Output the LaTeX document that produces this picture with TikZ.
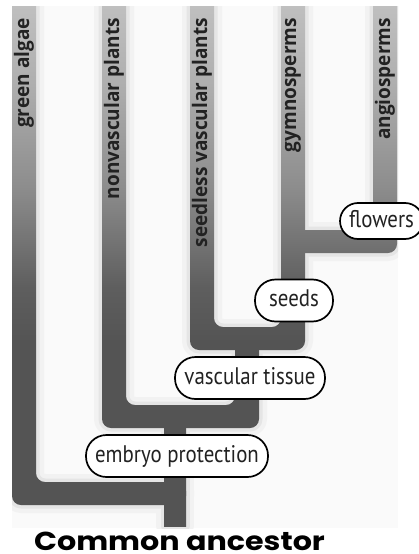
\documentclass[tikz,border=0pt]{standalone}
\usepackage{fontspec}
\setmainfont{PT Sans}
\newfontfamily\tagfont{PT Sans}[FakeStretch=0.87]
\newfontfamily\labfont{Open Sans}[FakeStretch=0.95]
\newfontfamily\ancfont{Poppins}[FakeStretch=1.16]
\definecolor{bgc}{HTML}{FAFAFA}
\definecolor{txt}{HTML}{222222}
\pgfdeclareverticalshading{treeshade}{100bp}{%
  color(0bp)=(black!67); color(25bp)=(black!67); color(42bp)=(black!67);
  color(47bp)=(black!63); color(56bp)=(black!45); color(66bp)=(black!31);
  color(75bp)=(black!23); color(100bp)=(black!23)}
\tikzset{
  bar/.style={rounded corners=9pt,
    path picture={\shade[shading=treeshade] (0,6) rectangle (419,528);}},
  halo/.style={rounded corners=9pt, draw=#1, line join=round},
  lab/.style={rotate=90, anchor=east, inner sep=0pt, text=txt,
    font=\labfont\bfseries\fontsize{20}{20}\selectfont},
  tag/.style={draw=black, fill=white, line width=1.7pt, inner xsep=2pt,
    inner ysep=0pt, text=txt, font=\tagfont\fontsize{24}{24}\selectfont,
    text height=16.5pt, text depth=4.5pt},
}
\newcommand\treeparts[1]{%
  \path[#1] (12,-20) -- (36,-20) -- (36,482) -- (186,482) -- (186,505) -- (12,505) -- cycle;
  \path[#1] (102,-20) -- (126,-20) -- (126,405) -- (235,405) -- (235,330) -- (259,330) -- (259,428) -- (102,428) -- cycle;
  \path[#1, sharp corners] (164,420) -- (186,420) -- (186,526) -- (164,526) -- cycle;
  \path[#1] (190,-20) -- (214,-20) -- (214,327) -- (281,327) -- (281,-20) -- (305,-20) -- (305,350) -- (190,350) -- cycle;
  \path[#1] (290,230) -- (373,230) -- (373,-20) -- (397,-20) -- (397,253) -- (290,253) -- cycle;
}
\begin{document}
\begin{tikzpicture}[x=1pt,y=-1pt]
\useasboundingbox (0,0) rectangle (419,554);
\fill[bgc] (12,6) rectangle (398,528);
\begin{scope}
  \clip (12,6) rectangle (398,528);
  \treeparts{halo=black!5, line width=16pt}
  \treeparts{halo=black!10, line width=7pt}
  \treeparts{bar}
\end{scope}
% taxon labels
\node[lab] (ga) at (24,18) {green algae};
\node[lab] (nv) at (114,18) {nonvascular plants};
\node[lab] (sv) at (202,18) {seedless vascular plants};
\node[lab] (gy) at (293,18) {gymnosperms};
\node[lab] (an) at (385,18) {angiosperms};
% trait tags
\node[tag, rounded corners=18pt, minimum height=36pt, minimum width=83pt] (flw) at (381.5,221) {flowers};
\node[tag, rounded corners=20.5pt, minimum height=42pt, minimum width=78pt] (sds) at (294,300.5) {seeds};
\node[tag, rounded corners=20.5pt, minimum height=42pt, minimum width=150pt] (vas) at (250,378) {vascular tissue};
\node[tag, rounded corners=20.5pt, minimum height=42pt, minimum width=182pt] (emb) at (177,456) {embryo protection};
% root label
\node[anchor=base, inner sep=0pt, text=black, font=\ancfont\bfseries\fontsize{26}{26}\selectfont] (root) at (179.5,550) {Common ancestor};
\end{tikzpicture}
\end{document}
